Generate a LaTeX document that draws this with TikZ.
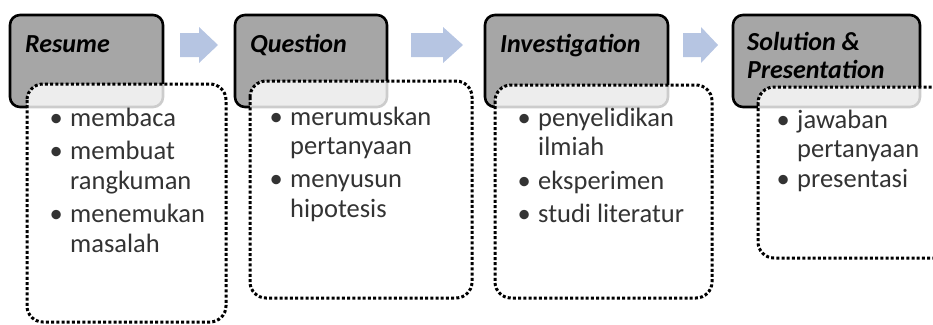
\documentclass[tikz,border=0pt]{standalone}
\usepackage{fontspec}
\setmainfont{Carlito}
\begin{document}
\begin{tikzpicture}[x=1pt,y=-1pt,
  stagebox/.style={draw=black,line width=2.6pt,fill=graybox,rounded corners=10pt},
  dotbox/.style={draw=black,line width=3pt,dash pattern=on 3pt off 2.2pt,fill=white,fill opacity=0.8,draw opacity=1,rounded corners=16pt},
  blockarrow/.style={fill=arrowblue,draw=none},
  titletext/.style={anchor=base west,inner sep=0pt,font=\fontsize{26}{28}\selectfont\bfseries\itshape,text=black},
  listtext/.style={anchor=base west,inner sep=0pt,font=\fontsize{26.5}{29.5}\selectfont,text=black!80}
]
\definecolor{graybox}{RGB}{166,166,166}
\definecolor{arrowblue}{RGB}{182,197,226}
\newcommand{\bitem}[1]{\makebox[20.5pt][l]{•}#1}
\newcommand{\bcont}[1]{\hspace*{20.5pt}#1}
\useasboundingbox (0,0) rectangle (933,324);
\clip (0,0) rectangle (933,324);
% stage boxes
\draw[stagebox] (10,15) rectangle (163,107);
\draw[stagebox] (235,15) rectangle (387,107);
\draw[stagebox] (485,15) rectangle (668,107);
\draw[stagebox] (733,15) rectangle (920,107);
% titles
\node[titletext] (t1) at (25,52) {Resume};
\node[titletext] (t2) at (250,52) {Question};
\node[titletext] (t3) at (500,52) {Investigation};
\node[titletext] (t4) at (747,50) {\parbox[t]{180pt}{Solution \&\\Presentation}};
% arrows
\fill[blockarrow] (180,33) -- (199,33) -- (199,27) -- (218,45) -- (199,63) -- (199,57) -- (180,57) -- cycle;
\fill[blockarrow] (411,33) -- (443,33) -- (443,27) -- (463,45) -- (443,63) -- (443,57) -- (411,57) -- cycle;
\fill[blockarrow] (683,33) -- (701,33) -- (701,27) -- (718,45) -- (701,63) -- (701,57) -- (683,57) -- cycle;
% dotted boxes
\draw[dotbox] (27,84) rectangle (226,322);
\draw[dotbox] (250,81) rectangle (472,298);
\draw[dotbox] (495,85) rectangle (712,298);
\draw[dotbox] (758,87) rectangle (960,258);
% lists
\node[listtext] (l1) at (49.5,126) {\parbox[t]{190pt}{\bitem{membaca}\\[4pt]\bitem{membuat}\\\bcont{rangkuman}\\[4pt]\bitem{menemukan}\\\bcont{masalah}}};
\node[listtext] (l2) at (269.5,125) {\parbox[t]{210pt}{\bitem{merumuskan}\\\bcont{pertanyaan}\\[3.5pt]\bitem{menyusun}\\\bcont{hipotesis}}};
\node[listtext] (l3) at (517.5,126) {\parbox[t]{210pt}{\bitem{penyelidikan}\\\bcont{ilmiah}\\[4pt]\bitem{eksperimen}\\[3.5pt]\bitem{studi literatur}}};
\node[listtext] (l4) at (776.5,128) {\parbox[t]{180pt}{\bitem{jawaban}\\\bcont{pertanyaan}\\\bitem{presentasi}}};
\end{tikzpicture}
\end{document}
